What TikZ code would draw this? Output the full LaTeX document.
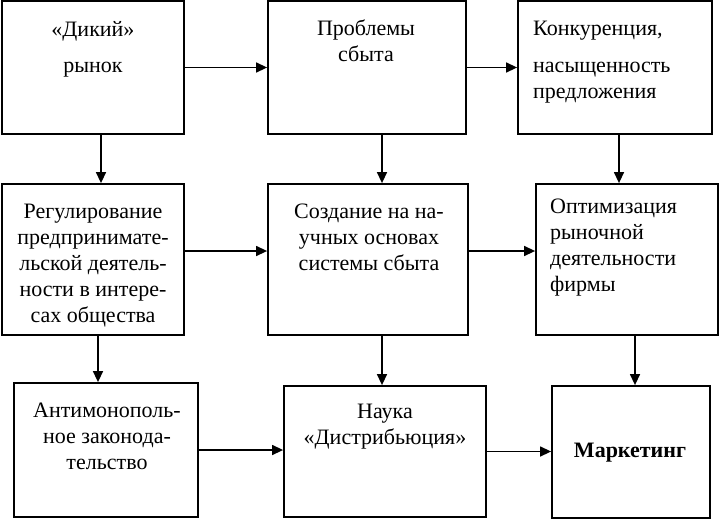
\documentclass[tikz,border=0pt]{standalone}
\usepackage{fontspec}
\setmainfont{Liberation Serif}
\usepackage{tikz}
\usetikzlibrary{arrows.meta, positioning}

\begin{document}
\begin{tikzpicture}[x=1pt, y=-1pt,
  box/.style={draw, line width=1.8pt, inner sep=0pt},
  txt/.style={inner sep=0pt, font=\fontsize{22}{26}\selectfont},
  arr/.style={-{Triangle[length=11pt, width=10pt]}, line width=1.4pt}]
  \useasboundingbox[fill=white] (0,0) rectangle (720,520);

  % Top row
  \node[box, minimum width=182pt, minimum height=133pt] (D) at (93, 67.5) {};
  \node[box, minimum width=198pt, minimum height=133pt] (P) at (367, 67.5) {};
  \node[box, minimum width=194pt, minimum height=133pt] (K) at (615, 67.5) {};
  \node[txt, anchor=base, align=center] (Dt) at (93, 72) {«Дикий»\\[10pt]рынок};
  \node[txt, anchor=base, align=center] (Pt) at (366, 61) {Проблемы\\сбыта};
  \node[txt, anchor=base west, align=left] (Kt) at (533, 98) {Конкуренция,\\[11pt]насыщенность\\предложения};

  % Middle row
  \node[box, minimum width=182pt, minimum height=151pt] (Reg) at (93, 259.5) {};
  \node[box, minimum width=200pt, minimum height=151pt] (Soz) at (368, 259.5) {};
  \node[box, minimum width=182pt, minimum height=151pt] (Opt) at (627, 259.5) {};
  \node[txt, anchor=base, align=center] (Regt) at (93, 322) {Регулирование\\предпринимате-\\льской деятель-\\ности в интере-\\сах общества};
  \node[txt, anchor=base, align=center] (Sozt) at (369, 270) {Создание на на-\\учных основах\\системы сбыта};
  \node[txt, anchor=base west, align=left] (Optt) at (550, 291) {Оптимизация\\рыночной\\деятельности\\фирмы};

  % Bottom row
  \node[box, minimum width=184pt, minimum height=134pt] (Ant) at (106, 450) {};
  \node[box, minimum width=202pt, minimum height=131pt] (Nau) at (385, 451.5) {};
  \node[box, minimum width=158pt, minimum height=132pt] (Mar) at (631, 452) {};
  \node[txt, anchor=base, align=center] (Antt) at (107, 469) {Антимонополь-\\ное законода-\\тельство};
  \node[txt, anchor=base, align=center] (Naut) at (385, 444) {Наука\\«Дистрибьюция»};
  \node[txt, anchor=base] (Mart) at (630, 457) {\textbf{Маркетинг}};

  % Horizontal arrows
  \draw[arr] (D.east) -- (P.west);
  \draw[arr] (P.east) -- (K.west);
  \draw[arr] ([yshift=8.5pt]Reg.east) -- ([yshift=8.5pt]Soz.west);
  \draw[arr] ([yshift=8.5pt]Soz.east) -- ([yshift=8.5pt]Opt.west);
  \draw[arr] (Ant.east) -- (Ant.east -| Nau.west);
  \draw[arr] (Nau.east) -- (Nau.east -| Mar.west);

  % Vertical arrows
  \draw[arr] ([xshift=8pt]D.south) -- ([xshift=8pt]D.south |- Reg.north);
  \draw[arr] ([xshift=15pt]P.south) -- ([xshift=15pt]P.south |- Soz.north);
  \draw[arr] ([xshift=4pt]K.south) -- ([xshift=4pt]K.south |- Opt.north);
  \draw[arr] ([xshift=5pt]Reg.south) -- ([xshift=5pt]Reg.south |- Ant.north);
  \draw[arr] ([xshift=14pt]Soz.south) -- ([xshift=14pt]Soz.south |- Nau.north);
  \draw[arr] ([xshift=8pt]Opt.south) -- ([xshift=8pt]Opt.south |- Mar.north);
\end{tikzpicture}
\end{document}
